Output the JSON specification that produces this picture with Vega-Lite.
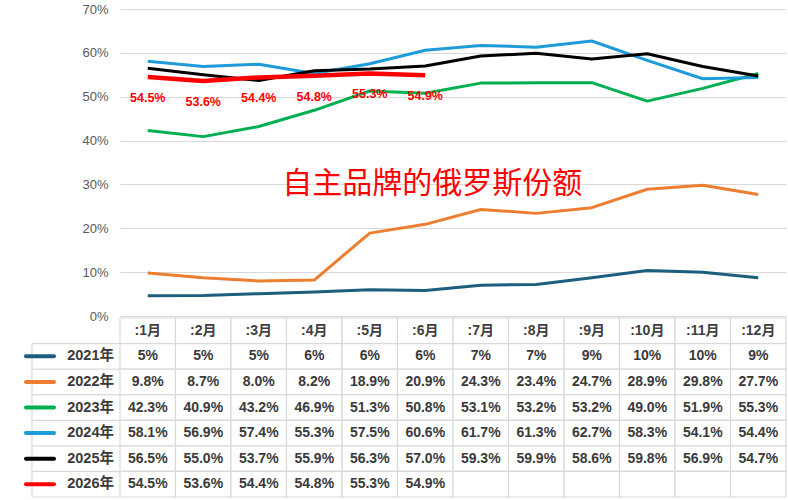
{
  "$schema": "https://vega.github.io/schema/vega-lite/v6.json",
  "width": 666,
  "height": 488,
  "autosize": {"type": "none"},
  "padding": {"left": 120, "top": 9, "right": 2, "bottom": 3},
  "background": "white",
  "config": {
    "view": {"stroke": null},
    "font": "Liberation Sans, Noto Sans CJK SC, sans-serif"
  },
  "datasets": {
    "cells": [
      {"y": "2021年", "m": ":1月", "v": 0.046, "t": "5%"},
      {"y": "2021年", "m": ":2月", "v": 0.047, "t": "5%"},
      {"y": "2021年", "m": ":3月", "v": 0.051, "t": "5%"},
      {"y": "2021年", "m": ":4月", "v": 0.055, "t": "6%"},
      {"y": "2021年", "m": ":5月", "v": 0.060, "t": "6%"},
      {"y": "2021年", "m": ":6月", "v": 0.058, "t": "6%"},
      {"y": "2021年", "m": ":7月", "v": 0.070, "t": "7%"},
      {"y": "2021年", "m": ":8月", "v": 0.072, "t": "7%"},
      {"y": "2021年", "m": ":9月", "v": 0.087, "t": "9%"},
      {"y": "2021年", "m": ":10月", "v": 0.104, "t": "10%"},
      {"y": "2021年", "m": ":11月", "v": 0.100, "t": "10%"},
      {"y": "2021年", "m": ":12月", "v": 0.087, "t": "9%"},
      {"y": "2022年", "m": ":1月", "v": 0.098, "t": "9.8%"},
      {"y": "2022年", "m": ":2月", "v": 0.087, "t": "8.7%"},
      {"y": "2022年", "m": ":3月", "v": 0.080, "t": "8.0%"},
      {"y": "2022年", "m": ":4月", "v": 0.082, "t": "8.2%"},
      {"y": "2022年", "m": ":5月", "v": 0.189, "t": "18.9%"},
      {"y": "2022年", "m": ":6月", "v": 0.209, "t": "20.9%"},
      {"y": "2022年", "m": ":7月", "v": 0.243, "t": "24.3%"},
      {"y": "2022年", "m": ":8月", "v": 0.234, "t": "23.4%"},
      {"y": "2022年", "m": ":9月", "v": 0.247, "t": "24.7%"},
      {"y": "2022年", "m": ":10月", "v": 0.289, "t": "28.9%"},
      {"y": "2022年", "m": ":11月", "v": 0.298, "t": "29.8%"},
      {"y": "2022年", "m": ":12月", "v": 0.277, "t": "27.7%"},
      {"y": "2023年", "m": ":1月", "v": 0.423, "t": "42.3%"},
      {"y": "2023年", "m": ":2月", "v": 0.409, "t": "40.9%"},
      {"y": "2023年", "m": ":3月", "v": 0.432, "t": "43.2%"},
      {"y": "2023年", "m": ":4月", "v": 0.469, "t": "46.9%"},
      {"y": "2023年", "m": ":5月", "v": 0.513, "t": "51.3%"},
      {"y": "2023年", "m": ":6月", "v": 0.508, "t": "50.8%"},
      {"y": "2023年", "m": ":7月", "v": 0.531, "t": "53.1%"},
      {"y": "2023年", "m": ":8月", "v": 0.532, "t": "53.2%"},
      {"y": "2023年", "m": ":9月", "v": 0.532, "t": "53.2%"},
      {"y": "2023年", "m": ":10月", "v": 0.490, "t": "49.0%"},
      {"y": "2023年", "m": ":11月", "v": 0.519, "t": "51.9%"},
      {"y": "2023年", "m": ":12月", "v": 0.553, "t": "55.3%"},
      {"y": "2024年", "m": ":1月", "v": 0.581, "t": "58.1%"},
      {"y": "2024年", "m": ":2月", "v": 0.569, "t": "56.9%"},
      {"y": "2024年", "m": ":3月", "v": 0.574, "t": "57.4%"},
      {"y": "2024年", "m": ":4月", "v": 0.553, "t": "55.3%"},
      {"y": "2024年", "m": ":5月", "v": 0.575, "t": "57.5%"},
      {"y": "2024年", "m": ":6月", "v": 0.606, "t": "60.6%"},
      {"y": "2024年", "m": ":7月", "v": 0.617, "t": "61.7%"},
      {"y": "2024年", "m": ":8月", "v": 0.613, "t": "61.3%"},
      {"y": "2024年", "m": ":9月", "v": 0.627, "t": "62.7%"},
      {"y": "2024年", "m": ":10月", "v": 0.583, "t": "58.3%"},
      {"y": "2024年", "m": ":11月", "v": 0.541, "t": "54.1%"},
      {"y": "2024年", "m": ":12月", "v": 0.544, "t": "54.4%"},
      {"y": "2025年", "m": ":1月", "v": 0.565, "t": "56.5%"},
      {"y": "2025年", "m": ":2月", "v": 0.550, "t": "55.0%"},
      {"y": "2025年", "m": ":3月", "v": 0.537, "t": "53.7%"},
      {"y": "2025年", "m": ":4月", "v": 0.559, "t": "55.9%"},
      {"y": "2025年", "m": ":5月", "v": 0.563, "t": "56.3%"},
      {"y": "2025年", "m": ":6月", "v": 0.570, "t": "57.0%"},
      {"y": "2025年", "m": ":7月", "v": 0.593, "t": "59.3%"},
      {"y": "2025年", "m": ":8月", "v": 0.599, "t": "59.9%"},
      {"y": "2025年", "m": ":9月", "v": 0.586, "t": "58.6%"},
      {"y": "2025年", "m": ":10月", "v": 0.598, "t": "59.8%"},
      {"y": "2025年", "m": ":11月", "v": 0.569, "t": "56.9%"},
      {"y": "2025年", "m": ":12月", "v": 0.547, "t": "54.7%"},
      {"y": "2026年", "m": ":1月", "v": 0.545, "t": "54.5%"},
      {"y": "2026年", "m": ":2月", "v": 0.536, "t": "53.6%"},
      {"y": "2026年", "m": ":3月", "v": 0.544, "t": "54.4%"},
      {"y": "2026年", "m": ":4月", "v": 0.548, "t": "54.8%"},
      {"y": "2026年", "m": ":5月", "v": 0.553, "t": "55.3%"},
      {"y": "2026年", "m": ":6月", "v": 0.549, "t": "54.9%"},
      {"y": "2026年", "m": ":7月", "v": null, "t": ""},
      {"y": "2026年", "m": ":8月", "v": null, "t": ""},
      {"y": "2026年", "m": ":9月", "v": null, "t": ""},
      {"y": "2026年", "m": ":10月", "v": null, "t": ""},
      {"y": "2026年", "m": ":11月", "v": null, "t": ""},
      {"y": "2026年", "m": ":12月", "v": null, "t": ""}
    ],
    "months": [
      {"m": ":1月"}, {"m": ":2月"}, {"m": ":3月"}, {"m": ":4月"},
      {"m": ":5月"}, {"m": ":6月"}, {"m": ":7月"}, {"m": ":8月"},
      {"m": ":9月"}, {"m": ":10月"}, {"m": ":11月"}, {"m": ":12月"}
    ],
    "years": [
      {"y": "2021年"}, {"y": "2022年"}, {"y": "2023年"},
      {"y": "2024年"}, {"y": "2025年"}, {"y": "2026年"}
    ],
    "edges": [
      {"y": "2021年"}, {"y": "2022年"}, {"y": "2023年"},
      {"y": "2024年"}, {"y": "2025年"}, {"y": "2026年"}, {"y": "end"}
    ]
  },
  "layer": [
    {
      "data": {"name": "cells"},
      "transform": [{"filter": "datum.v != null"}],
      "mark": {"type": "line", "strokeJoin": "round"},
      "encoding": {
        "x": {"field": "m", "type": "nominal", "axis": null,
          "scale": {"type": "band", "domain": [":1月", ":2月", ":3月", ":4月", ":5月", ":6月", ":7月", ":8月", ":9月", ":10月", ":11月", ":12月"], "range": [0, 666], "paddingInner": 0, "paddingOuter": 0}},
        "y": {"field": "v", "type": "quantitative", "title": null,
          "scale": {"domain": [0, 0.7], "range": [307, 0], "nice": false, "zero": true},
          "axis": {"values": [0, 0.1, 0.2, 0.3, 0.4, 0.5, 0.6, 0.7], "format": ".0%", "domain": false, "ticks": false,
            "labelPadding": 12, "labelColor": "#595959", "labelFontSize": 13, "grid": true, "gridColor": "#D9D9D9", "gridWidth": 1.2}},
        "color": {"field": "y", "type": "nominal", "legend": null,
          "scale": {"domain": ["2021年", "2022年", "2023年", "2024年", "2025年", "2026年"],
            "range": ["#1B5E7E", "#ED7D31", "#00B050", "#1F9BDA", "#000000", "#FF0000"]}},
        "strokeWidth": {"condition": {"test": "datum.y === '2026年'", "value": 4.5}, "value": 3}
      }
    },
    {
      "data": {"name": "cells"},
      "transform": [{"filter": "datum.y === '2026年' && datum.v != null"}],
      "mark": {"type": "text", "color": "#FF0000", "fontWeight": "bold", "fontSize": 12.5, "dy": 21},
      "encoding": {
        "x": {"field": "m", "type": "nominal", "axis": null,
          "scale": {"type": "band", "domain": [":1月", ":2月", ":3月", ":4月", ":5月", ":6月", ":7月", ":8月", ":9月", ":10月", ":11月", ":12月"], "range": [0, 666], "paddingInner": 0, "paddingOuter": 0}},
        "y": {"field": "v", "type": "quantitative", "axis": null,
          "scale": {"domain": [0, 0.7], "range": [307, 0], "nice": false}},
        "text": {"field": "t"}
      }
    },
    {
      "data": {"values": [{"label": "自主品牌的俄罗斯份额"}]},
      "mark": {"type": "text", "color": "#FF0000", "fontSize": 30, "font": "Noto Sans CJK SC", "dx": 7, "baseline": "middle"},
      "encoding": {
        "x": {"datum": ":6月", "type": "nominal", "axis": null,
          "scale": {"type": "band", "domain": [":1月", ":2月", ":3月", ":4月", ":5月", ":6月", ":7月", ":8月", ":9月", ":10月", ":11月", ":12月"], "range": [0, 666], "paddingInner": 0, "paddingOuter": 0}},
        "y": {"datum": 0.30, "type": "quantitative", "axis": null,
          "scale": {"domain": [0, 0.7], "range": [307, 0], "nice": false}},
        "text": {"field": "label"}
      }
    },
    {
      "data": {"name": "months"},
      "mark": {"type": "rect", "fill": "white", "stroke": "#D9D9D9", "strokeWidth": 1.2},
      "encoding": {
        "x": {"field": "m", "type": "nominal", "axis": null,
          "scale": {"type": "band", "domain": [":1月", ":2月", ":3月", ":4月", ":5月", ":6月", ":7月", ":8月", ":9月", ":10月", ":11月", ":12月"], "range": [0, 666], "paddingInner": 0, "paddingOuter": 0}},
        "y": {"datum": "hdr", "type": "nominal", "axis": null,
          "scale": {"type": "band", "domain": ["hdr", "2021年", "2022年", "2023年", "2024年", "2025年", "2026年"], "range": [309, 488], "paddingInner": 0, "paddingOuter": 0}}
      }
    },
    {
      "data": {"name": "cells"},
      "mark": {"type": "rect", "fill": "white", "stroke": "#D9D9D9", "strokeWidth": 1.2},
      "encoding": {
        "x": {"field": "m", "type": "nominal", "axis": null,
          "scale": {"type": "band", "domain": [":1月", ":2月", ":3月", ":4月", ":5月", ":6月", ":7月", ":8月", ":9月", ":10月", ":11月", ":12月"], "range": [0, 666], "paddingInner": 0, "paddingOuter": 0}},
        "y": {"field": "y", "type": "nominal", "axis": null,
          "scale": {"type": "band", "domain": ["hdr", "2021年", "2022年", "2023年", "2024年", "2025年", "2026年"], "range": [309, 488], "paddingInner": 0, "paddingOuter": 0}}
      }
    },
    {
      "data": {"name": "edges"},
      "mark": {"type": "tick", "orient": "horizontal", "size": 88, "thickness": 1.2, "color": "#D9D9D9", "opacity": 1},
      "encoding": {
        "x": {"datum": "col", "type": "nominal", "axis": null,
          "scale": {"type": "band", "domain": ["col"], "range": [-88, 0], "paddingInner": 0, "paddingOuter": 0}},
        "y": {"field": "y", "type": "nominal", "axis": null,
          "scale": {"type": "band", "domain": ["hdr", "2021年", "2022年", "2023年", "2024年", "2025年", "2026年", "end"], "range": [296.21, 500.79], "paddingInner": 0, "paddingOuter": 0}}
      }
    },
    {
      "data": {"values": [{"part": "left edge"}]},
      "mark": {"type": "tick", "orient": "vertical", "size": 153.4, "thickness": 1.2, "color": "#D9D9D9", "opacity": 1},
      "encoding": {
        "x": {"datum": "edge", "type": "nominal", "axis": null,
          "scale": {"type": "band", "domain": ["edge"], "range": [-88.6, -87.4], "paddingInner": 0, "paddingOuter": 0}},
        "y": {"datum": "rows", "type": "nominal", "axis": null,
          "scale": {"type": "band", "domain": ["rows"], "range": [334.57, 488], "paddingInner": 0, "paddingOuter": 0}}
      }
    },
    {
      "data": {"name": "months"},
      "mark": {"type": "text", "color": "#404040", "fontWeight": "bold", "fontSize": 14},
      "encoding": {
        "x": {"field": "m", "type": "nominal", "axis": null,
          "scale": {"type": "band", "domain": [":1月", ":2月", ":3月", ":4月", ":5月", ":6月", ":7月", ":8月", ":9月", ":10月", ":11月", ":12月"], "range": [0, 666], "paddingInner": 0, "paddingOuter": 0}},
        "y": {"datum": "hdr", "type": "nominal", "axis": null,
          "scale": {"type": "band", "domain": ["hdr", "2021年", "2022年", "2023年", "2024年", "2025年", "2026年"], "range": [309, 488], "paddingInner": 0, "paddingOuter": 0}},
        "text": {"field": "m"}
      }
    },
    {
      "data": {"name": "cells"},
      "mark": {"type": "text", "color": "#3A3A3A", "fontWeight": "bold", "fontSize": 14},
      "encoding": {
        "x": {"field": "m", "type": "nominal", "axis": null,
          "scale": {"type": "band", "domain": [":1月", ":2月", ":3月", ":4月", ":5月", ":6月", ":7月", ":8月", ":9月", ":10月", ":11月", ":12月"], "range": [0, 666], "paddingInner": 0, "paddingOuter": 0}},
        "y": {"field": "y", "type": "nominal", "axis": null,
          "scale": {"type": "band", "domain": ["hdr", "2021年", "2022年", "2023年", "2024年", "2025年", "2026年"], "range": [309, 488], "paddingInner": 0, "paddingOuter": 0}},
        "text": {"field": "t"}
      }
    },
    {
      "data": {"name": "years"},
      "mark": {"type": "tick", "orient": "horizontal", "size": 32, "thickness": 4, "cornerRadius": 2, "opacity": 1},
      "encoding": {
        "x": {"datum": "key", "type": "nominal", "axis": null,
          "scale": {"type": "band", "domain": ["key", "name"], "range": [-91, -47], "paddingInner": 0, "paddingOuter": 0}},
        "y": {"field": "y", "type": "nominal", "axis": null,
          "scale": {"type": "band", "domain": ["hdr", "2021年", "2022年", "2023年", "2024年", "2025年", "2026年"], "range": [309, 488], "paddingInner": 0, "paddingOuter": 0}},
        "color": {"field": "y", "type": "nominal", "legend": null,
          "scale": {"domain": ["2021年", "2022年", "2023年", "2024年", "2025年", "2026年"],
            "range": ["#1B5E7E", "#ED7D31", "#00B050", "#1F9BDA", "#000000", "#FF0000"]}}
      }
    },
    {
      "data": {"name": "years"},
      "mark": {"type": "text", "color": "#3A3A3A", "fontWeight": "bold", "fontSize": 14.5, "align": "right", "dx": 21},
      "encoding": {
        "x": {"datum": "name", "type": "nominal", "axis": null,
          "scale": {"type": "band", "domain": ["key", "name"], "range": [-96, -4], "paddingInner": 0, "paddingOuter": 0}},
        "y": {"field": "y", "type": "nominal", "axis": null,
          "scale": {"type": "band", "domain": ["hdr", "2021年", "2022年", "2023年", "2024年", "2025年", "2026年"], "range": [309, 488], "paddingInner": 0, "paddingOuter": 0}},
        "text": {"field": "y"}
      }
    }
  ],
  "resolve": {"scale": {"x": "independent", "y": "independent", "color": "independent"}}
}
